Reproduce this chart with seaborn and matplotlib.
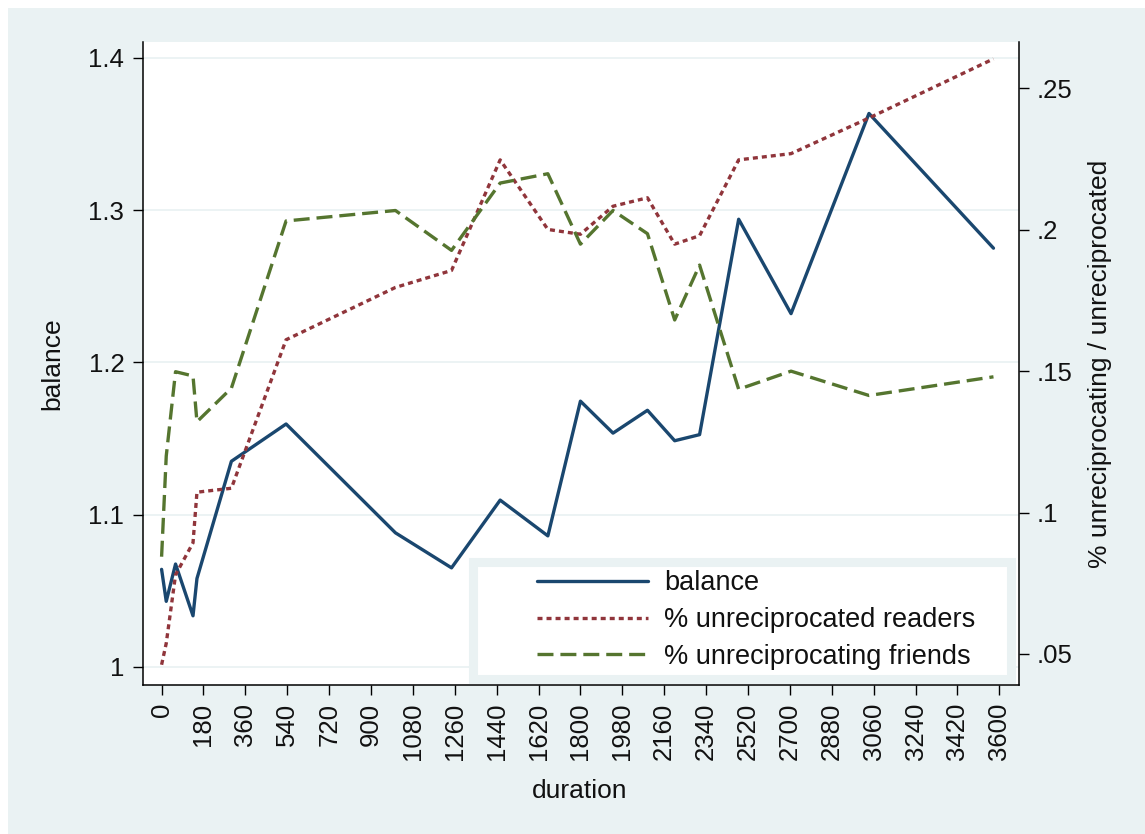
import matplotlib
matplotlib.use('Agg')
import matplotlib.pyplot as plt
import seaborn as sns
import pandas as pd
from matplotlib.patches import Rectangle

# ---------------- data ----------------
duration = [0, 20, 60, 135, 152, 300, 535, 1005, 1246, 1455, 1660, 1800,
            1940, 2088, 2205, 2312, 2480, 2705, 3040, 3575]
balance = [1.064, 1.043, 1.0675, 1.0335, 1.058, 1.135, 1.1595, 1.088,
           1.065, 1.1095, 1.086, 1.1745, 1.1535, 1.1685, 1.1485, 1.1525,
           1.294, 1.232, 1.3635, 1.275]
unrecip_readers = [0.0462, 0.0538, 0.078, 0.0893, 0.1072, 0.1086, 0.1611,
                   0.1796, 0.1856, 0.2247, 0.2001, 0.1984, 0.2083, 0.2113,
                   0.1949, 0.1979, 0.2247, 0.2269, 0.2395, 0.2604]
unrecip_friends = [0.0844, 0.1200, 0.1498, 0.1483, 0.1321, 0.1440, 0.2031,
                   0.2068, 0.1927, 0.2165, 0.2198, 0.1949, 0.2068, 0.1986,
                   0.1681, 0.1875, 0.1436, 0.1500, 0.1414, 0.1480]

x_ticks = list(range(0, 3601, 180))
x_tick_labels = [str(t) for t in x_ticks]
left_ticks = [1.0, 1.1, 1.2, 1.3, 1.4]
left_tick_labels = ['1', '1.1', '1.2', '1.3', '1.4']
right_ticks = [0.05, 0.10, 0.15, 0.20, 0.25]
right_tick_labels = ['.05', '.1', '.15', '.2', '.25']

series_names = ['balance', '% unreciprocated readers', '% unreciprocating friends']

df = pd.DataFrame({'duration': duration, 'balance': balance,
                   'readers': unrecip_readers, 'friends': unrecip_friends})

# ---------------- style ----------------
sns.set_style('white')
plt.rcParams['font.family'] = ['Liberation Sans', 'DejaVu Sans']
plt.rcParams['lines.scale_dashes'] = False

BG = '#EAF2F3'
NAVY = '#1A476F'
MAROON = '#90353B'
GREEN = '#55752F'
TXT = '#111111'
TICK_FS = 18.5
LAB_FS = 19
LEG_FS = 19.5

W, H = 1145, 834
fig = plt.figure(figsize=(W / 100, H / 100), dpi=100, facecolor='white')
fig.patches.append(Rectangle((8 / W, 0), (W - 8) / W, (H - 8) / H,
                             transform=fig.transFigure, facecolor=BG,
                             edgecolor='none', zorder=-10))

ax = fig.add_axes([143.3 / W, (H - 685) / H, (1019 - 143.3) / W, (685 - 42.2) / H])
ax.set_facecolor('white')
ax2 = ax.twinx()

lw = 2.4
sns.lineplot(data=df, x='duration', y='balance', ax=ax, color=NAVY,
             linewidth=lw, label=series_names[0], legend=False)
sns.lineplot(data=df, x='duration', y='readers', ax=ax2, color=MAROON,
             linewidth=lw, linestyle=(0, (3.6, 2.9)), label=series_names[1],
             legend=False)
sns.lineplot(data=df, x='duration', y='friends', ax=ax2, color=GREEN,
             linewidth=lw, linestyle=(0, (11.5, 5.0)), label=series_names[2],
             legend=False)
for a in (ax, ax2):
    for ln in a.get_lines():
        ln.set_dash_capstyle('butt')
        ln.set_solid_capstyle('round')

# limits
ax.set_xlim(-78.6, 3684.7)
ax.set_ylim(0.98804, 1.41030)
ax2.set_ylim(0.03904, 0.26630)

# ticks
ax.set_xticks(x_ticks)
ax.set_xticklabels(x_tick_labels, rotation=90, fontsize=TICK_FS, color=TXT)
ax.set_yticks(left_ticks)
ax.set_yticklabels(left_tick_labels, fontsize=TICK_FS, color=TXT)
ax2.set_yticks(right_ticks)
ax2.set_yticklabels(right_tick_labels, fontsize=TICK_FS, color=TXT)

ax.tick_params(axis='x', direction='out', length=7.2, width=1.0, pad=5.5,
               color='black', bottom=True)
ax.tick_params(axis='y', direction='out', length=7.2, width=1.0, pad=6.5,
               color='black', left=True)
ax2.tick_params(axis='y', direction='out', length=7.2, width=1.0, pad=5.8,
                color='black', right=True)

# grid
ax.yaxis.grid(True, color=BG, linewidth=1.3)
ax.xaxis.grid(False)
ax2.grid(False)
ax.set_axisbelow(True)

# spines
for s in ['top', 'right']:
    ax.spines[s].set_visible(False)
for s in ['top', 'left', 'bottom']:
    ax2.spines[s].set_visible(False)
for sp in [ax.spines['left'], ax.spines['bottom'], ax2.spines['right']]:
    sp.set_color('black')
    sp.set_linewidth(1.1)

# labels
ax.set_xlabel('duration', fontsize=LAB_FS, color=TXT)
ax.xaxis.label.set_va('center')
ax.xaxis.set_label_coords(0.4985, -0.1649)
ax.set_ylabel('balance', fontsize=LAB_FS, color=TXT)
ax.yaxis.label.set_va('center')
ax.yaxis.set_label_coords((52 - 143.3) / 875.7, 0.5)
ax2.set_ylabel('% unreciprocating / unreciprocated', fontsize=LAB_FS,
               color=TXT, rotation=90)
ax2.yaxis.label.set_va('center')
ax2.yaxis.set_label_coords((1100 - 143.3) / 875.7, 0.5)

# legend box (Stata-style)
axw, axh = 875.7, 642.8
def ax_x(px):
    return (px - 143.3) / axw
def ax_y(py):
    return (685 - py) / axh

box = Rectangle((ax_x(472.5), ax_y(678.5)), ax_x(1010.5) - ax_x(472.5),
                ax_y(561.5) - ax_y(678.5), transform=ax2.transAxes,
                facecolor='white', edgecolor=BG, linewidth=6.5,
                zorder=5, clip_on=False)
ax2.add_patch(box)

handles = ax.get_lines()[:1] + ax2.get_lines()[:2]
leg = ax2.legend(handles, series_names, loc='center left',
                 bbox_to_anchor=(ax_x(537), ax_y(620)),
                 bbox_transform=ax2.transAxes, frameon=False,
                 fontsize=LEG_FS, handlelength=4.1, handletextpad=0.6,
                 borderpad=0, borderaxespad=0, labelspacing=0.39)
leg.set_zorder(6)
for t in leg.get_texts():
    t.set_color(TXT)

fig.savefig('out.png', dpi=100, facecolor='white')
